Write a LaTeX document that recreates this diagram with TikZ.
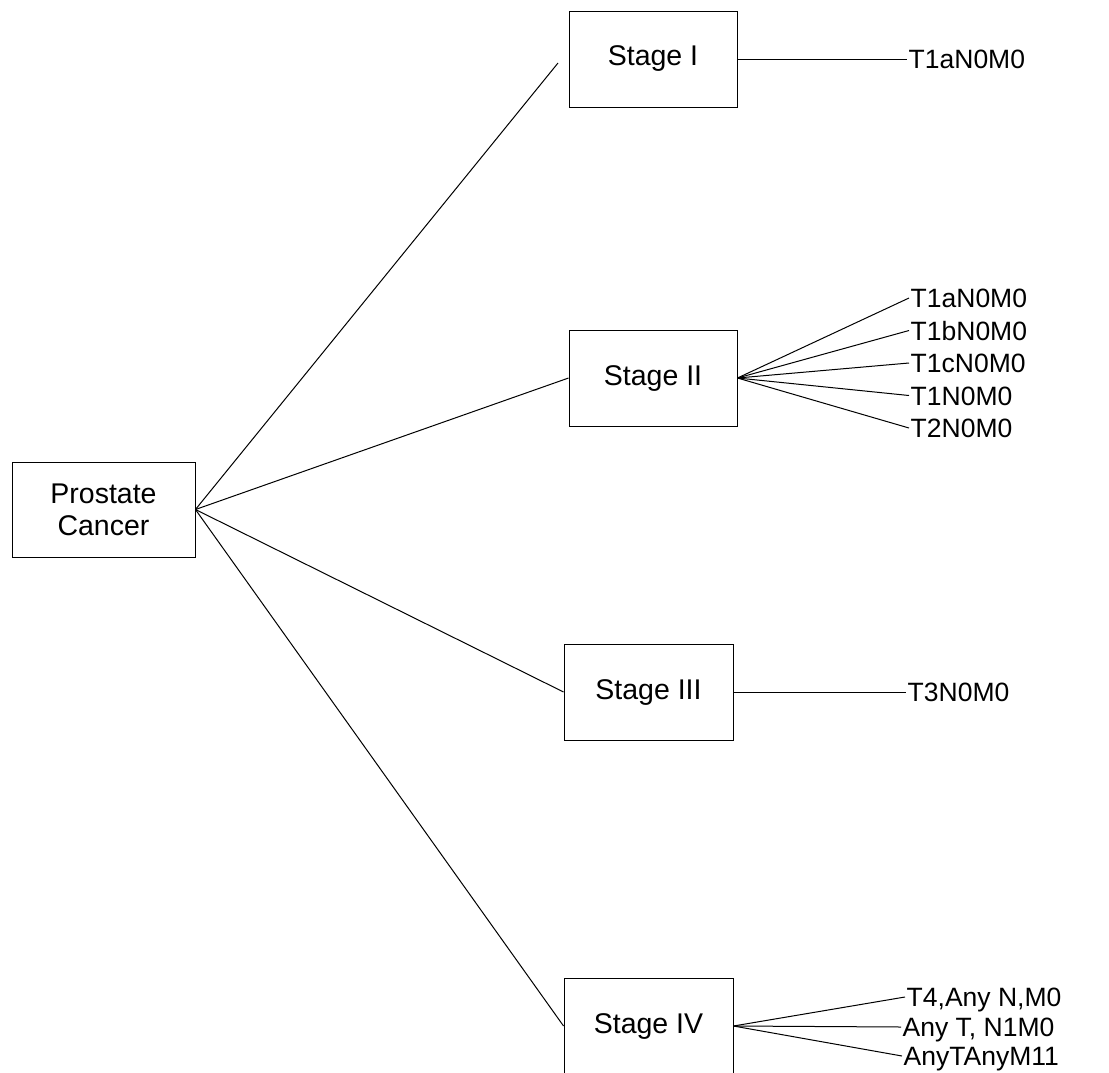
\documentclass[tikz,border=0pt]{standalone}
\usepackage{fontspec}
\setmainfont{Liberation Sans}
\begin{document}
\begin{tikzpicture}[x=1pt,y=-1pt,
  stagebox/.style={draw,line width=0.9pt,inner sep=0pt,minimum width=168pt,minimum height=96pt,font=\fontsize{28.5}{32}\selectfont,align=center},
  leaf/.style={anchor=west,inner sep=1.5pt,font=\fontsize{26.5}{30}\selectfont,text height=19pt,text depth=0pt},
  conn/.style={line width=1pt}]
\useasboundingbox (0,0) rectangle (1109,1072);
\node[stagebox,minimum width=183pt,minimum height=95pt] (pc) at (103.5,509.5) {Prostate\\Cancer};
\node[stagebox] (s1) at (653,59) {Stage I};
\node[stagebox] (s2) at (653,378) {Stage II};
\node[stagebox,minimum width=169pt] (s3) at (648.5,692) {Stage III};
\node[stagebox,minimum width=169pt] (s4) at (648.5,1026) {Stage IV};
\coordinate (s1in) at (558,63);
% leaves
\node[leaf] (l1) at (907,59) {T1aN0M0};
\node[leaf] (l2a) at (909,298) {T1aN0M0};
\node[leaf] (l2b) at (909,330.5) {T1bN0M0};
\node[leaf] (l2c) at (909,363) {T1cN0M0};
\node[leaf] (l2d) at (909,395.5) {T1N0M0};
\node[leaf] (l2e) at (909,428) {T2N0M0};
\node[leaf] (l3) at (906,692) {T3N0M0};
\node[leaf] (l4a) at (905,997) {T4,Any N,M0};
\node[leaf] (l4b) at (901,1027) {Any T, N1M0};
\node[leaf] (l4c) at (902,1056) {AnyTAnyM11};
% connectors
\draw[conn] (pc.east) -- (s1in);
\draw[conn] (pc.east) -- (s2.west);
\draw[conn] (pc.east) -- (s3.west);
\draw[conn] (pc.east) -- (s4.west);
\draw[conn] (s1.east) -- (l1.west);
\foreach \n in {l2a,l2b,l2c,l2d,l2e} \draw[conn] (s2.east) -- (\n.west);
\draw[conn] (s3.east) -- (l3.west);
\foreach \n in {l4a,l4b,l4c} \draw[conn] (s4.east) -- (\n.west);
\end{tikzpicture}
\end{document}
